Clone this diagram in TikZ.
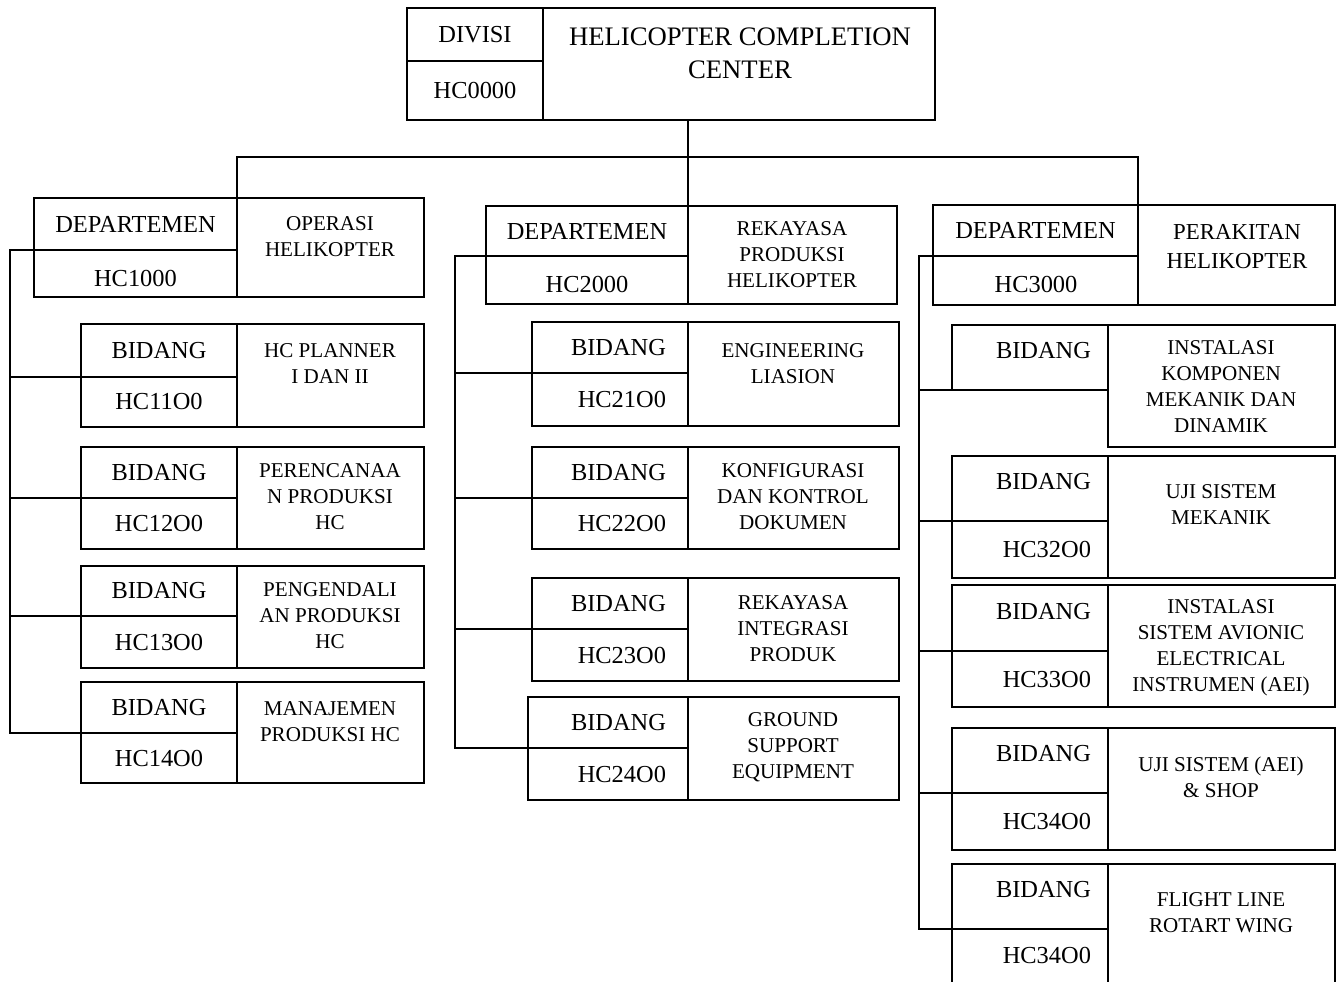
\documentclass[tikz,border=0pt]{standalone}
\usepackage{fontspec}
\setmainfont{Liberation Serif}
\usetikzlibrary{positioning}
\newcommand{\pxu}{0.02cm}
\tikzstyle{cell}=[draw, line width=1.3pt, inner sep=0pt, outer sep=0pt, font=\fontsize{13.9}{16}\selectfont]
\tikzstyle{ttl}=[align=center, inner sep=0pt, font=\fontsize{12}{14.8}\selectfont]
\tikzstyle{link}=[line width=0.6pt]

\begin{document}
\begin{tikzpicture}[x=0.02cm, y=-0.02cm]
        \useasboundingbox (0,0) rectangle (1341,982);
        \clip (0,0) rectangle (1341,982);

        % divisi
        \node (divisi) [cell, minimum width=136*\pxu, minimum height=53*\pxu] at (475,34.5) {DIVISI};
        \node (hc0000) [cell, minimum width=136*\pxu, minimum height=59*\pxu, below=0pt of divisi] {HC0000};
        \node (hcc) [cell, minimum width=392*\pxu, minimum height=112*\pxu, anchor=north west] at (divisi.north east) {};
        \node (hcct) [ttl, font=\fontsize{15.2}{18.7}\selectfont] at (740,53.5) {HELICOPTER COMPLETION\\CENTER};

        % departemen
        \node (d1n) [cell, minimum width=203*\pxu, minimum height=52*\pxu] at (135.5,224) {DEPARTEMEN};
        \node (d1c) [cell, minimum width=203*\pxu, minimum height=47*\pxu, below=0pt of d1n] {};
        \node (d1r) [cell, minimum width=187*\pxu, minimum height=99*\pxu, anchor=north west] at (d1n.north east) {};
        \node (d1t) [ttl] at (330,237) {OPERASI\\HELIKOPTER};

        \node (d2n) [cell, minimum width=202*\pxu, minimum height=50*\pxu] at (587,231) {DEPARTEMEN};
        \node (d2c) [cell, minimum width=202*\pxu, minimum height=48*\pxu, below=0pt of d2n] {};
        \node (d2r) [cell, minimum width=209*\pxu, minimum height=98*\pxu, anchor=north west] at (d2n.north east) {};
        \node (d2t) [ttl] at (792,255) {REKAYASA\\PRODUKSI\\HELIKOPTER};

        \node (d3n) [cell, minimum width=205*\pxu, minimum height=51*\pxu] at (1035.5,230.5) {DEPARTEMEN};
        \node (d3c) [cell, minimum width=205*\pxu, minimum height=49*\pxu, below=0pt of d3n] {};
        \node (d3r) [cell, minimum width=197*\pxu, minimum height=100*\pxu, anchor=north west] at (d3n.north east) {};
        \node (d3t) [ttl, font=\fontsize{13}{16.4}\selectfont] at (1237,246.5) {PERAKITAN\\HELIKOPTER};

        % codes cut off at the bottom
        \begin{scope}
            \clip (d1c.north west) rectangle (237,287);
            \node (d1k) [cell, draw=none] at (135.5,278.5) {HC1000};
        \end{scope}
        \begin{scope}
            \clip (d2c.north west) rectangle (688,293);
            \node (d2k) [cell, draw=none] at (587,284.5) {HC2000};
        \end{scope}
        \begin{scope}
            \clip (d3c.north west) rectangle (1138,293);
            \node (d3k) [cell, draw=none] at (1036,284.5) {HC3000};
        \end{scope}

        % bidang, left
        \foreach \i/\y/\ha/\hb/\code in {11/324/53/50/HC11O0, 12/447/51/51/HC12O0, 13/566/50/52/HC13O0, 14/682/51/50/HC14O0}{
            \node (n\i) [cell, minimum width=156*\pxu, minimum height=\ha*\pxu, anchor=north west] at (81,\y) {BIDANG};
            \node (c\i) [cell, minimum width=156*\pxu, minimum height=\hb*\pxu, below=0pt of n\i] {\code};
            \node (r\i) [cell, minimum width=187*\pxu, minimum height={(\ha+\hb)*\pxu}, anchor=north west] at (n\i.north east) {};
        }
        \node (t11) [ttl] at (330,364) {HC PLANNER\\I DAN II};
        \node (t12) [ttl] at (330,497) {PERENCANAA\\N PRODUKSI\\HC};
        \node (t13) [ttl] at (330,616) {PENGENDALI\\AN PRODUKSI\\HC};
        \node (t14) [ttl] at (330,722) {MANAJEMEN\\PRODUKSI HC};

        % bidang, middle
        \foreach \i/\x/\w/\y/\ha/\hb/\code in {21/532/156/322/51/53/HC21O0, 22/532/156/447/51/51/HC22O0, 23/532/156/578/51/52/HC23O0, 24/528/160/697/51/52/HC24O0}{
            \node (n\i) [cell, minimum width=\w*\pxu, minimum height=\ha*\pxu, align=right, text width={(\w-44)*\pxu}, anchor=north west] at (\x,\y) {BIDANG};
            \node (c\i) [cell, minimum width=\w*\pxu, minimum height=\hb*\pxu, align=right, text width={(\w-44)*\pxu}, below=0pt of n\i] {\code};
            \node (r\i) [cell, minimum width=211*\pxu, minimum height={(\ha+\hb)*\pxu}, anchor=north west] at (n\i.north east) {};
        }
        \node (t21) [ttl] at (793,363.5) {ENGINEERING\\LIASION};
        \node (t22) [ttl] at (793,497) {KONFIGURASI\\DAN KONTROL\\DOKUMEN};
        \node (t23) [ttl] at (793,629) {REKAYASA\\INTEGRASI\\PRODUK};
        \node (t24) [ttl] at (793,747) {GROUND\\SUPPORT\\EQUIPMENT};

        % bidang, right
        \node (n31) [cell, minimum width=156*\pxu, minimum height=65*\pxu, align=right, text width=122*\pxu, text depth=14*\pxu, anchor=north west] at (952,325) {BIDANG};
        \node (r31) [cell, minimum width=227*\pxu, minimum height=122*\pxu, anchor=north west] at (n31.north east) {};
        \foreach \i/\y/\ha/\hb/\code/\cdep in {32/456/65/57/HC32O0/0, 33/585/66/56/HC33O0/0, 34/728/65/57/HC34O0/0, 35/864/65/71/HC34O0/19}{
            \node (n\i) [cell, minimum width=156*\pxu, minimum height=\ha*\pxu, align=right, text width=122*\pxu, text depth=14*\pxu, anchor=north west] at (952,\y) {BIDANG};
            \node (c\i) [cell, minimum width=156*\pxu, minimum height=\hb*\pxu, align=right, text width=122*\pxu, text depth=\cdep*\pxu, below=0pt of n\i] {\code};
            \node (r\i) [cell, minimum width=227*\pxu, minimum height={(\ha+\hb)*\pxu}, anchor=north west] at (n\i.north east) {};
        }
        \node (t31) [ttl] at (1221,387) {INSTALASI\\KOMPONEN\\MEKANIK DAN\\DINAMIK};
        \node (t32) [ttl] at (1221,505) {UJI SISTEM\\MEKANIK};
        \node (t33) [ttl] at (1221,648) {INSTALASI\\SISTEM AVIONIC\\ELECTRICAL\\INSTRUMEN (AEI)};
        \node (t34) [ttl] at (1221,777.5) {UJI SISTEM (AEI)\\\& SHOP};
        \node (t35) [ttl] at (1221,913) {FLIGHT LINE\\ROTART WING};

        % lines
        \coordinate (bus) at (689,157);
        \draw[link] (d2n.north east |- hcc.south) -- (d2n.north east);
        \draw[link] (d1n.north east) |- (bus) -| (d3n.north east);

        \draw[link] (d1n.south west) -- ++(-24,0) coordinate (s1) |- (n14.south west);
        \foreach \i in {11,12,13}
            \draw[link] (n\i.south west) -- (n\i.south west -| s1);
        \draw[link] (d2n.south west) -- ++(-31,0) coordinate (s2) |- (n24.south west);
        \foreach \i in {21,22,23}
            \draw[link] (n\i.south west) -- (n\i.south west -| s2);
        \draw[link] (d3n.south west) -- ++(-14,0) coordinate (s3) |- (n35.south west);
        \foreach \i in {31,32,33,34}
            \draw[link] (n\i.south west) -- (n\i.south west -| s3);
    \end{tikzpicture}
\end{document}
